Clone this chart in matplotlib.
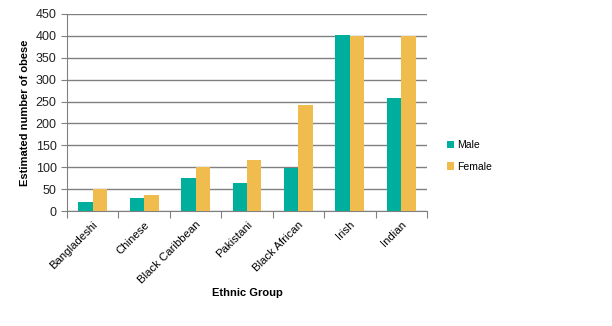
import matplotlib
matplotlib.use("Agg")
import matplotlib.pyplot as plt
import numpy as np

categories = ["Bangladeshi", "Chinese", "Black Caribbean", "Pakistani",
              "Black African", "Irish", "Indian"]
male = [20, 30, 76, 65, 98, 403, 257]
female = [51, 37, 100, 117, 243, 400, 400]
yticks = [0, 50, 100, 150, 200, 250, 300, 350, 400, 450]

plt.rcParams['font.family'] = ['Liberation Sans', 'DejaVu Sans']

fig = plt.figure(figsize=(6.12, 3.26), dpi=100)
ax = fig.add_axes([67/612, 1-211/326, (427-67)/612, (211-14)/326])

x = np.arange(len(categories))
w = 0.28
teal = "#00AE9E"
gold = "#F0BC4E"
ax.bar(x - w/2, male, w, color=teal, label="Male", zorder=3)
ax.bar(x + w/2, female, w, color=gold, label="Female", zorder=3)

ax.set_xlim(-0.5, len(categories) - 0.5)
ax.set_ylim(0, 450)
ax.set_yticks(yticks)
ax.tick_params(axis='y', labelsize=9, length=4, color='#808080', labelcolor='#222222')
ax.yaxis.grid(True, color='#808080', linewidth=1, zorder=0)

# category boundary ticks
ax.set_xticks(np.arange(-0.5, len(categories)), minor=False)
ax.set_xticklabels([])
ax.set_xticks(x, minor=True)
ax.set_xticklabels(categories, minor=True, rotation=45, ha='right',
                   rotation_mode='anchor', fontsize=8.2)
ax.tick_params(axis='x', which='major', length=5, color='#808080')
ax.tick_params(axis='x', which='minor', length=0, pad=6)

for s in ['top', 'right']:
    ax.spines[s].set_visible(False)
for s in ['left', 'bottom']:
    ax.spines[s].set_color('#808080')

ax.set_ylabel("Estimated number of obese", fontsize=8, fontweight='bold', labelpad=4)
ax.set_xlabel("Ethnic Group", fontsize=8, fontweight='bold', labelpad=2)

leg = ax.legend(loc='center left', bbox_to_anchor=(1.03, 0.28), frameon=False,
                fontsize=7.5, handlelength=0.7, handleheight=0.7,
                handletextpad=0.3, labelspacing=1.1)

fig.savefig("out.png", dpi=100)
